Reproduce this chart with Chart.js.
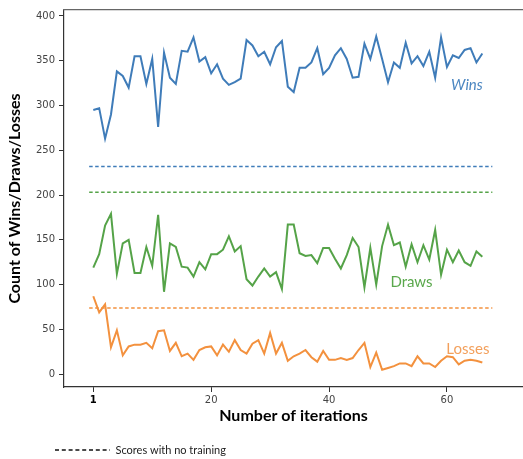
<!DOCTYPE html>
<html><head><meta charset="utf-8">
<script src="https://cdn.jsdelivr.net/npm/chart.js@4.4.1/dist/chart.umd.min.js"></script>
<style>html,body{margin:0;padding:0;background:#fff;overflow:hidden}#wrap{width:523px;height:459px}</style>
</head><body><div id="wrap"><canvas id="c" width="523" height="459"></canvas></div>
<script>
const wins = [295,297,263,290,338,333,320,355,355,324,352,276,359,331,324,361,360,376,349,354,336,346,330,323,326,330,373,367,355,360,346,365,372,321,315,342,342,348,364,335,342,356,364,352,331,332,369,352,377,352,326,348,342,370,347,355,344,360,331,376,343,356,353,362,364,348,358];
const draws = [119,134,166,179,112,146,150,113,113,142,121,178,92,146,142,120,119,109,125,117,134,134,139,154,137,143,106,99,109,118,109,114,95,167,167,135,132,133,124,141,141,129,118,133,152,142,97,141,100,143,167,144,147,120,145,125,144,128,161,111,139,125,138,125,121,137,131];
const losses = [87,69,78,30,49,21,31,33,33,35,29,48,49,26,35,20,23,16,27,30,31,21,33,25,38,27,23,34,38,23,46,23,35,15,20,23,27,19,14,26,16,16,18,16,18,27,35,8,24,5,7,9,12,12,9,20,12,12,8,15,20,19,11,15,16,15,13];
const noTraining = [232, 203, 74];          // Wins, Draws, Losses with no training
const baselineSpan = [-0.7, 67.7];
const xTickValues = [0, 20, 40, 60];
const xTickLabels = ['1', '20', '40', '60'];
const yTickValues = [0, 50, 100, 150, 200, 250, 300, 350, 400];
const seriesNames = ['Wins', 'Draws', 'Losses'];
const legendText = 'Scores with no training';
const seriesColors = ['#3f7cb9', '#55a348', '#f3913e'];
const labelColors = ['#4b86c1', '#5aa84c', '#f3a05c'];
const labelAnchors = [[60.7, 323], [50.4, 103], [59.9, 27.5]];
const legendLeft = 45;

const iterations = wins.map((_, i) => i);
const toPoints = arr => arr.map((v, i) => ({x: iterations[i], y: v}));
const datasets = [];
[wins, draws, losses].forEach((arr, k) => datasets.push({
  label: seriesNames[k], data: toPoints(arr), borderColor: seriesColors[k],
  borderWidth: 2, pointRadius: 0, fill: false, tension: 0
}));
noTraining.forEach((v, k) => datasets.push({
  label: legendText, data: [{x: baselineSpan[0], y: v}, {x: baselineSpan[1], y: v}],
  borderColor: seriesColors[k], borderWidth: 1.5, borderDash: [3.5, 2.5], pointRadius: 0, fill: false
}));

const seriesLabelPlugin = {
  id: 'seriesLabels',
  afterLayout(chart) { if (chart.legend) chart.legend.left = legendLeft; },
  afterDatasetsDraw(chart) {
    const {ctx, scales: {x, y}} = chart;
    ctx.save();
    ctx.textAlign = 'left'; ctx.textBaseline = 'middle';
    seriesNames.forEach((name, k) => {
      ctx.font = (k === 0 ? 'italic ' : '') + '15px Lato';
      ctx.fillStyle = labelColors[k];
      ctx.fillText(name, x.getPixelForValue(labelAnchors[k][0]), y.getPixelForValue(labelAnchors[k][1]));
    });
    ctx.restore();
  }
};

function build() {
  new Chart(document.getElementById('c'), {
    type: 'line',
    data: {datasets},
    plugins: [seriesLabelPlugin],
    options: {
      responsive: false, animation: false, events: [],
      layout: {padding: {left: 0, right: 0, top: 4, bottom: -6.5}},
      plugins: {
        tooltip: {enabled: false},
        legend: {
          display: true, position: 'bottom', align: 'start',
          labels: {
            usePointStyle: true, pointStyleWidth: 55, padding: 10, color: '#222',
            font: {family: 'Lato', size: 11},
            generateLabels: () => [{text: legendText, fillStyle: 'rgba(0,0,0,0)', strokeStyle: '#111', fontColor: '#222',
              lineWidth: 1.3, lineDash: [4, 2.8], pointStyle: 'line', hidden: false, datasetIndex: 3}]
          }
        }
      },
      scales: {
        x: {
          type: 'linear', position: 'bottom', min: -4.97, max: 72.9, bounds: 'data',
          afterBuildTicks: s => { s.ticks = xTickValues.map(v => ({value: v})); },
          afterFit: s => { s.height = 47.5; },
          ticks: {
            autoSkip: false, maxRotation: 0, padding: 2,
            callback: v => xTickLabels[xTickValues.indexOf(v)],
            font: c => ({family: 'DejaVu Sans', size: 10, weight: (c.tick && c.tick.value === 0) ? 'bold' : 'normal'}),
            color: c => (c.tick && c.tick.value === 0) ? '#000' : '#444'
          },
          grid: {drawOnChartArea: false, drawTicks: true, tickLength: 5, color: '#333'},
          border: {display: true, color: '#333', width: 1.2},
          title: {display: true, text: 'Number of iterations', color: '#000',
            font: {family: 'Lato', size: 16, weight: 'bold'}, padding: {top: 0, bottom: 9}}
        },
        y: {
          type: 'linear', position: 'left', min: -14.3, max: 406.6, bounds: 'data',
          afterBuildTicks: s => { s.ticks = yTickValues.map(v => ({value: v})); },
          afterFit: s => { s.width = 64; },
          ticks: {padding: 4, font: {family: 'DejaVu Sans', size: 10}, color: '#444', callback: v => String(v)},
          grid: {drawOnChartArea: false, drawTicks: true, tickLength: 5, color: '#333'},
          border: {display: true, color: '#333', width: 1.2},
          title: {display: true, text: 'Count of Wins/Draws/Losses', color: '#000',
            font: {family: 'Lato', size: 16, weight: 'bold'}, padding: {top: 5.4, bottom: 0}}
        },
        xTop: {
          type: 'linear', position: 'top', min: -4.97, max: 72.9, bounds: 'data',
          afterFit: s => { s.height = 0; },
          ticks: {display: false},
          grid: {display: false, drawTicks: false},
          border: {display: true, color: '#666', width: 1.2}
        }
      }
    }
  });
}
const fontLoads = ['bold 16px Lato', '15px Lato', 'italic 15px Lato', '11px Lato', '10px "DejaVu Sans"', 'bold 10px "DejaVu Sans"']
  .map(f => document.fonts.load(f).catch(() => null));
Promise.all(fontLoads).then(build, build);
</script>
</body></html>
